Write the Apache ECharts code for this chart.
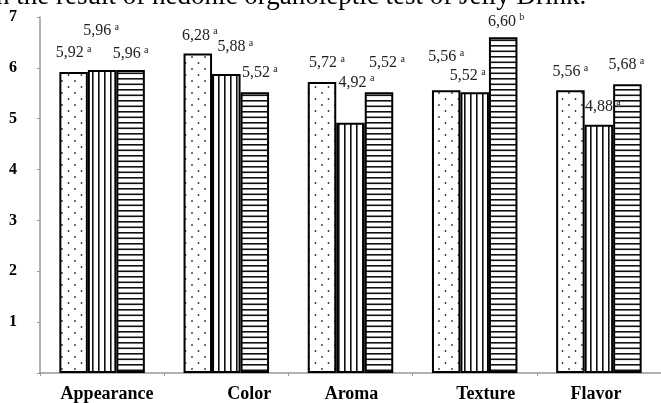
<!DOCTYPE html>
<html lang="en">
  <head>
    <meta charset="UTF-8" />
    <title>Hedonic organoleptic test of Jelly Drink</title>
    <script src="https://cdn.jsdelivr.net/npm/echarts@6/dist/echarts.min.js"></script>
    <style>
      html, body { margin: 0; padding: 0; background: #fff; }
      #main { width: 661px; height: 403px; }
    </style>
  </head>
  <body>
    <div id="main"></div>
    <script>
      // data
      const categories = ["Appearance", "Color", "Aroma", "Texture", "Flavor"];
      const sampleDots = [5.92, 6.28, 5.72, 5.56, 5.56];
      const sampleVertical = [5.96, 5.88, 4.92, 5.52, 4.88];
      const sampleHorizontal = [5.96, 5.52, 5.52, 6.6, 5.68];
      const lettersDots = ["a", "a", "a", "a", "a"];
      const lettersVertical = ["a", "a", "a", "a", "a"];
      const lettersHorizontal = ["a", "a", "a", "b", "a"];
      const yMax = 7;

      // where each value label sits relative to its bar top (layout, not data)
      const offsetsDots = [[0, -10], [2, -9], [5, -10], [0, -24], [0, -9]];
      const offsetsVertical = [[-1, -30], [9, -18], [6, -31], [-7, -7], [4, -9]];
      const offsetsHorizontal = [[0, -7], [5, -10], [8, -20], [3, -7], [-1, -10]];
      // x label nudges
      const catShift = [5, 23, 1, 11, -3];

      function makePattern(w, h, draw) {
        let c = document.createElement("canvas");
        c.width = w;
        c.height = h;
        let ctx = c.getContext("2d");
        ctx.fillStyle = "#fff";
        ctx.fillRect(0, 0, w, h);
        draw(ctx);
        return { image: c, repeat: "repeat" };
      }

      let dotFill = makePattern(13, 12, (ctx) => {
        ctx.fillStyle = "#333";
        ctx.beginPath();
        ctx.arc(3.5, 3, 0.9, 0, Math.PI * 2);
        ctx.arc(10, 9, 0.9, 0, Math.PI * 2);
        ctx.fill();
      });
      let vertFill = makePattern(6, 4, (ctx) => {
        ctx.fillStyle = "#111";
        ctx.fillRect(2, 0, 1.6, 4);
      });
      let horzFill = makePattern(4, 11, (ctx) => {
        ctx.fillStyle = "#111";
        ctx.fillRect(0, 1, 4, 1.6);
        ctx.fillRect(0, 6.5, 4, 1.6);
      });

      const serif = '"Liberation Serif", "DejaVu Serif", serif';

      function makeSeries(values, letters, offsets, fill) {
        return {
          type: "bar",
          barWidth: 28.5,
          barGap: "0%",
          data: values.map((v, i) => ({
            value: v,
            label: { offset: offsets[i] },
          })),
          itemStyle: { color: fill, borderColor: "#000", borderWidth: 2 },
          label: {
            show: true,
            position: "top",
            distance: 0,
            formatter: (p) =>
              "{v|" + p.value.toFixed(2).replace(".", ",") + "} {s|" + letters[p.dataIndex] + "}",
            rich: {
              v: { fontFamily: serif, fontSize: 16, lineHeight: 18, color: "#222" },
              s: { fontFamily: serif, fontSize: 10, lineHeight: 10, verticalAlign: "top", color: "#222" },
            },
          },
        };
      }

      let richCats = {};
      catShift.forEach((d, i) => {
        richCats["c" + i] = {
          fontFamily: serif,
          fontSize: 18,
          fontWeight: "bold",
          color: "#000",
          padding: d >= 0 ? [0, 0, 0, 2 * d] : [0, -2 * d, 0, 0],
        };
      });

      let myChart = echarts.init(document.getElementById("main"));
      myChart.setOption({
        animation: false,
        backgroundColor: "#fff",
        grid: { left: 40, right: -8, top: 17, bottom: 29 },
        graphic: [
          {
            type: "text",
            x: -4,
            y: -3,
            style: {
              text: "n the result of hedonic organoleptic test of Jelly Drink.",
              font: "27px " + serif,
              fill: "#000",
              verticalAlign: "middle",
            },
          },
        ],
        xAxis: {
          type: "category",
          data: categories,
          axisLine: { lineStyle: { color: "#999", width: 1.5 } },
          axisTick: { show: true, length: 3, lineStyle: { color: "#999" } },
          axisLabel: {
            margin: 12,
            formatter: (v, i) => "{c" + i + "|" + v + "}",
            rich: richCats,
          },
        },
        yAxis: {
          type: "value",
          min: 0,
          max: yMax,
          interval: 1,
          splitLine: { show: false },
          axisLine: { show: true, lineStyle: { color: "#999", width: 1.5 } },
          axisTick: { show: true, length: 3, lineStyle: { color: "#999" } },
          axisLabel: {
            margin: 23,
            fontFamily: serif,
            fontSize: 16,
            fontWeight: "bold",
            color: "#000",
            formatter: (v) => (v === 0 ? "" : v),
          },
        },
        series: [
          makeSeries(sampleDots, lettersDots, offsetsDots, dotFill),
          makeSeries(sampleVertical, lettersVertical, offsetsVertical, vertFill),
          makeSeries(sampleHorizontal, lettersHorizontal, offsetsHorizontal, horzFill),
        ],
      });
    </script>
  </body>
</html>
